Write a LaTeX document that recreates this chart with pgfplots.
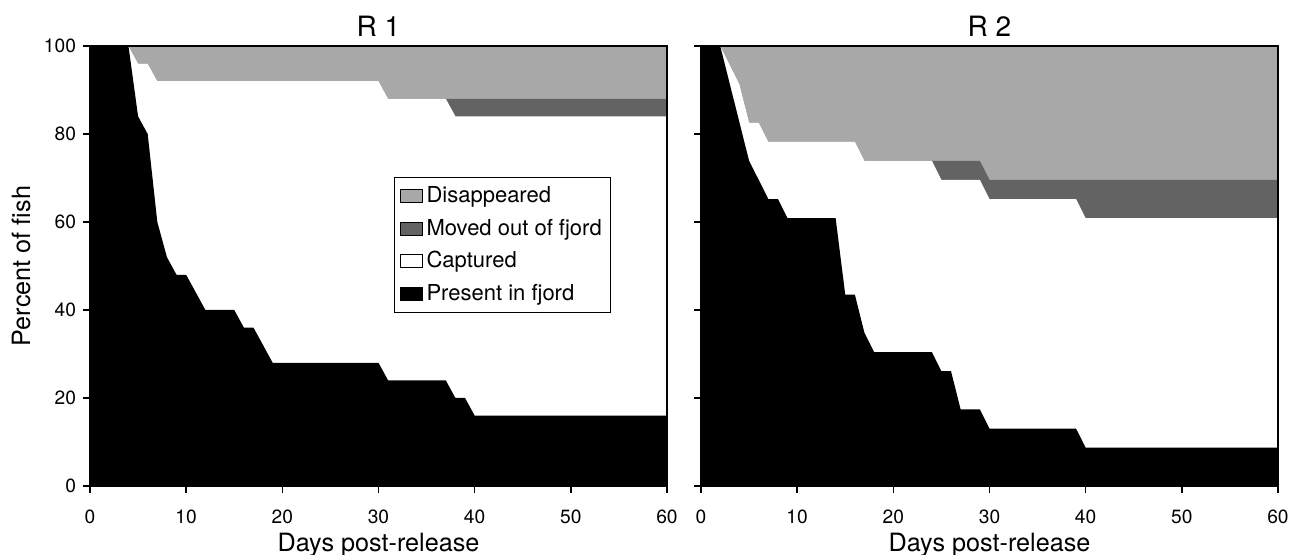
\documentclass[border=0pt]{standalone}
\usepackage{fontspec}
\setmainfont{TeX Gyre Heros}
\usepackage{pgfplots}
\pgfplotsset{compat=1.18}
\definecolor{disap}{RGB}{168,168,168}
\definecolor{moved}{RGB}{99,99,99}
\pgfplotsset{
 fishaxis/.style={
  scale only axis, width=288.5pt, height=220pt,
  xmin=0,xmax=60,ymin=0,ymax=100,
  xtick={0,10,...,60}, ytick={0,20,...,100},
  tick align=outside, tick pos=left, major tick length=3.5pt,
  axis on top,
  axis line style={line width=0.8pt},
  tick style={line width=0.8pt, black},
  /pgf/number format/assume math mode=true,
  tick label style={font=\fontsize{9.6}{11}\selectfont},
  xticklabel style={yshift=-5pt},
  title style={font=\fontsize{14}{16}\selectfont, at={(axis description cs:0.5,1.025)}, anchor=base, yshift=-7pt},
  xlabel style={font=\fontsize{12.6}{15}\selectfont, at={(axis description cs:0.5,-0.150)}, anchor=base},
  ylabel style={font=\fontsize{12.6}{15}\selectfont},
  xlabel={Days post-release},
  legend image code/.code={\draw[#1,draw=black,line width=0.4pt] (0pt,-3.25pt) rectangle (11pt,3.25pt);},
 }
}
\begin{document}
\begin{tikzpicture}
\path[use as bounding box] (-45pt,-34.5pt) rectangle (605.5pt,243pt);
\begin{axis}[fishaxis, at={(0pt,0pt)}, anchor=south west,
  title={R 1},
  ylabel={Percent of fish},
  ylabel style={at={(axis description cs:-0.1196,0.5)}, anchor=center},
  legend style={at={(0.527,0.702)}, anchor=north west, draw=black, line width=0.5pt,
    font=\fontsize{11}{13}\selectfont, row sep=2.6pt, inner sep=2.6pt},
  legend cell align=left]
\addplot[fill=disap, draw=none] coordinates {(0,100)(60,100)} \closedcycle;
\addlegendentry{Disappeared}
\addplot[fill=moved, draw=none] coordinates {(0,100)(4,100)(5,96)(6,96)(7,92)(30,92)(31,88)(60,88)} \closedcycle;
\addlegendentry{Moved out of fjord}
\addplot[fill=white, draw=none] coordinates {(0,100)(4,100)(5,96)(6,96)(7,92)(30,92)(31,88)(37,88)(38,84)(60,84)} \closedcycle;
\addlegendentry{Captured}
\addplot[fill=black, draw=none] coordinates {(0,100)(4,100)(5,84)(6,80)(7,60)(8,52)(9,48)(10,48)(12,40)(15,40)(16,36)(17,36)(19,28)(30,28)(31,24)(37,24)(38,20)(39,20)(40,16)(60,16)} \closedcycle;
\addlegendentry{Present in fjord}
\end{axis}
\begin{axis}[fishaxis, at={(305.5pt,0pt)}, anchor=south west,
  title={R 2}, yticklabels={}]
\addplot[fill=disap, draw=none] coordinates {(0,100)(60,100)} \closedcycle;
\addplot[fill=moved, draw=none] coordinates {(0,100)(2,100)(4,91.30)(5,82.61)(6,82.61)(7,78.26)(16,78.26)(17,73.91)(29,73.91)(30,69.57)(60,69.57)} \closedcycle;
\addplot[fill=white, draw=none] coordinates {(0,100)(2,100)(4,91.30)(5,82.61)(6,82.61)(7,78.26)(16,78.26)(17,73.91)(24,73.91)(25,69.57)(29,69.57)(30,65.22)(39,65.22)(40,60.87)(60,60.87)} \closedcycle;
\addplot[fill=black, draw=none] coordinates {(0,100)(2,100)(5,73.91)(6,69.57)(7,65.22)(8,65.22)(9,60.87)(14,60.87)(15,43.48)(16,43.48)(17,34.78)(18,30.43)(24,30.43)(25,26.09)(26,26.09)(27,17.39)(29,17.39)(30,13.04)(39,13.04)(40,8.70)(60,8.70)} \closedcycle;
\end{axis}
\end{tikzpicture}
\end{document}
